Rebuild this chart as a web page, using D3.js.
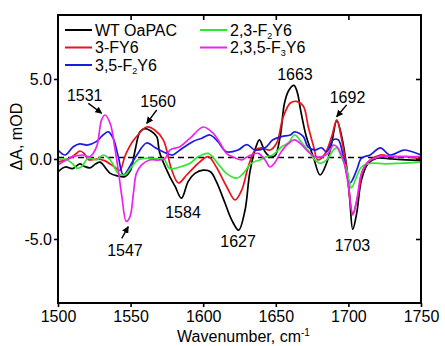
<!DOCTYPE html>
<html>
<head>
<meta charset="utf-8">
<script src="https://cdn.jsdelivr.net/npm/d3@7"></script>
<style>
  body { margin: 0; background: #fff; }
  svg text { font-family: "Liberation Sans", Arial, sans-serif; fill: #000; }
</style>
</head>
<body>
<div id="chart"></div>
<script>
// wavenumber (cm-1), dA (mOD)
const wt = [
  [1500, -0.8], [1505, -0.5], [1510, -0.6], [1515, -0.3], [1518, -0.45], [1522, -0.55],
  [1526, -0.3], [1529, -0.2], [1536, -0.9], [1541, -1.05], [1546, -1.1], [1550, -0.7],
  [1553, 0.5], [1556.5, 1.7], [1560, 1.9], [1564, 1.75], [1568, 1.4], [1570, 0.4],
  [1577, -1.1], [1580.6, -1.7], [1585, -2.45], [1589.7, -1.4], [1594.3, -0.9], [1600, -0.7],
  [1605, -0.8], [1609, -1.4], [1615, -2.75], [1619.6, -3.8], [1624.4, -4.45],
  [1628.8, -3.2], [1632, -0.9], [1635.7, 0.56], [1638.7, 1.2], [1642.6, 0.45], [1646, 0.15],
  [1649.4, 0.2], [1653, 1.4], [1656, 3.5], [1659, 4.3], [1662.5, 4.6], [1665, 4.1],
  [1667, 3.1], [1671, 1.4], [1675.8, 0.15], [1680.5, -1.0], [1685, -0.25], [1688.5, 1.0],
  [1692, 2.4], [1695.4, 1.4], [1698.8, -0.5], [1701, -2.6], [1703, -4.4], [1705.7, -3.4],
  [1709, -1.3], [1713.5, -0.3], [1719.5, 0.05], [1730, 0.0], [1740, -0.05], [1750, -0.1]
];
const fy3 = [
  [1500, -0.2], [1505, -0.05], [1508, 0.05], [1512, 0.3], [1515, 0.5], [1518, 0.35],
  [1521, -0.05], [1526.6, 0.0], [1532, -0.1], [1539, -0.5], [1542.7, -0.7], [1546, 0.15],
  [1550.7, 1.0], [1555, 1.5], [1561, 2.0], [1566.8, 1.8], [1572.5, 1.2], [1575, 0.5],
  [1578, -0.6], [1583, -1.5], [1588.6, -1.0], [1597.8, -0.17], [1603.5, 0.15], [1609, -0.5],
  [1616, -1.7], [1622, -2.56], [1626.5, -1.95], [1631, -0.5], [1635.7, 0.56],
  [1640, 0.7], [1646, 0.56], [1650.6, 1.0], [1655, 2.6], [1660, 3.5], [1664.3, 3.6],
  [1669, 3.3], [1672.4, 2.0], [1676, 0.8], [1679, -0.06], [1684, 0.35], [1688.5, 1.4],
  [1692, 2.45], [1695.4, 1.2], [1699, -0.7], [1703, -3.4], [1707, -2.1], [1710, -0.7],
  [1715, -0.06], [1722, 0.25], [1730, 0.15], [1740, 0.15], [1750, 0.0]
];
const f2y35 = [
  [1500, 0.56], [1505, 0.25], [1510.5, 0.77], [1515, 0.95], [1520, 0.87], [1526.6, 1.1],
  [1531, 1.5], [1534.7, 1.7], [1538, 1.3], [1541.5, 0.15], [1545, -1.0], [1550.7, -0.27],
  [1555, 0.35], [1561, 1.0], [1567, 0.7], [1570, 0.56], [1575, 0.35], [1579, 0.25],
  [1584, 0.56], [1593, 1.1], [1599, 1.3], [1604.7, 1.5], [1610, 1.1], [1616, 0.45],
  [1624, 0.56], [1630, 0.9], [1635.7, 0.56], [1642.6, 0.7], [1648, 1.2],
  [1654, 1.4], [1660, 1.5], [1663, 1.7], [1669, 1.4], [1672, 0.77], [1677, 0.56],
  [1681.6, 0.7], [1685, 0.45], [1689.6, 1.2], [1693, 1.2], [1696.5, 0.15], [1701, -1.5],
  [1705.7, -0.7], [1709, 0.06], [1715, 0.25], [1722, 0.7], [1728.6, 0.25], [1738, 0.56],
  [1744, 0.45], [1750, 0.25]
];
const f2y23 = [
  [1500, -0.06], [1505, 0.0], [1510, -0.3], [1513, -0.57], [1516, -0.5], [1521, 0.06],
  [1526.6, -0.06], [1531, 0.25], [1536, -0.06], [1541.5, -0.9], [1546, -1.0], [1550.7, -0.5],
  [1555, -0.06], [1563, 0.06], [1570, 0.0], [1573, 0.0], [1577, -0.6], [1584, -0.5],
  [1591, -0.27], [1596.7, 0.15], [1603.5, 0.35], [1610, -0.27], [1616, -0.9], [1623, -1.2],
  [1627.6, -0.9], [1633, -0.27], [1639, -0.06], [1643.7, 0.15], [1648, 0.25], [1654, 0.77],
  [1658.6, 1.0], [1663, 1.5], [1668, 1.0], [1672, 0.56], [1677, -0.06], [1680.5, -0.27],
  [1685, -0.06], [1689.6, 0.56], [1692, 0.7], [1695, 0.15], [1699, -0.7], [1702, -1.8],
  [1705.7, -1.1], [1709, -0.5], [1715, -0.27], [1725, -0.3], [1735, -0.27], [1750, -0.2]
];
const f3y235 = [
  [1500, -0.37], [1505, -0.1], [1510.5, 0.15], [1517, 0.25], [1522, 0.15], [1526.6, 0.77],
  [1530, 2.45], [1532.4, 2.75], [1536, 2.2], [1539, 0.77], [1541.5, -0.7], [1544, -2.35],
  [1547, -3.9], [1549.6, -3.6], [1552, -2.1], [1554, -0.9], [1557.6, -0.37], [1563, -0.06],
  [1570, -0.06], [1574, 0.06], [1577, 0.56], [1584, 0.77], [1591, 1.3], [1600, 2.0],
  [1607, 1.6], [1611.6, 1.0], [1616, 0.35], [1620, 0.15], [1626.5, -0.06],
  [1629, 0.06], [1633, 0.25], [1638, 0.35], [1642.6, -0.06], [1646, -0.5], [1649, -0.27],
  [1653, 0.35], [1657.5, 0.87], [1663, 1.2], [1668, 0.87], [1672.4, 0.45], [1677, 0.15],
  [1682, 0.15], [1686, 0.35], [1689.6, 0.87], [1692, 0.77], [1696.5, -0.06], [1700, -1.7],
  [1703, -3.5], [1705.7, -2.6], [1709, -0.9], [1713.6, -0.17], [1722, 0.15], [1735, 0.15],
  [1750, 0.15]
];

const xTicks = [1500, 1550, 1600, 1650, 1700, 1750];
const yTicks = [-5, 0, 5];

// label name parts: [text, subscript, text]
const series = [
  { name: ['WT OaPAC', '', ''], color: '#000000', values: wt },
  { name: ['3-FY6', '', ''], color: '#e8141e', values: fy3 },
  { name: ['3,5-F', '2', 'Y6'], color: '#1a1ae0', values: f2y35 },
  { name: ['2,3-F', '2', 'Y6'], color: '#2ee82e', values: f2y23 },
  { name: ['2,3,5-F', '3', 'Y6'], color: '#ee22ee', values: f3y235 }
];

// peak labels in data units, optional arrow [x1, y1, x2, y2]
const peaks = [
  { label: '1531', x: 1518.4, y: 3.64, arrow: [1520.9, 3.48, 1530.1, 2.86] },
  { label: '1560', x: 1568.9, y: 3.27, arrow: [1568, 3.06, 1561.1, 2.23] },
  { label: '1584', x: 1586.1, y: -3.69 },
  { label: '1627', x: 1624, y: -5.47 },
  { label: '1547', x: 1546.1, y: -6.09, arrow: [1543.9, -4.96, 1548.4, -4.23] },
  { label: '1663', x: 1663.2, y: 4.94 },
  { label: '1692', x: 1699.4, y: 3.48, arrow: [1698.8, 3.38, 1691.9, 2.64] },
  { label: '1703', x: 1702.8, y: -5.78 }
];

const config = {
  svgWidth: 445, svgHeight: 346,
  marginLeft: 58, marginRight: 24, marginTop: 15, marginBottom: 43
};
const chartWidth = config.svgWidth - config.marginLeft - config.marginRight;
const chartHeight = config.svgHeight - config.marginTop - config.marginBottom;

const svg = d3.select('#chart')
  .append('svg')
  .attr('width', config.svgWidth)
  .attr('height', config.svgHeight);

svg.append('defs').append('marker')
  .attr('id', 'arrow')
  .attr('viewBox', '0 0 10 10')
  .attr('refX', 9).attr('refY', 5)
  .attr('markerWidth', 7).attr('markerHeight', 7)
  .attr('markerUnits', 'userSpaceOnUse')
  .attr('orient', 'auto')
  .append('path')
  .attr('d', 'M0,0 L10,5 L0,10 Z')
  .attr('fill', '#000');

const chart = svg.append('g')
  .attr('transform', `translate(${config.marginLeft}, ${config.marginTop})`);

const scaleX = d3.scaleLinear().domain([1500, 1750]).range([0, chartWidth]);
const scaleY = d3.scaleLinear().domain([-9, 9]).range([chartHeight, 0]);

// zero line
chart.append('line')
  .attr('x1', scaleX(1500)).attr('x2', scaleX(1750))
  .attr('y1', scaleY(0) - 1.5).attr('y2', scaleY(0) - 1.5)
  .attr('stroke', '#000')
  .attr('stroke-width', 1.6)
  .attr('stroke-dasharray', '6,4');

const line = d3.line()
  .x(d => scaleX(d[0]))
  .y(d => scaleY(d[1]))
  .curve(d3.curveCatmullRom.alpha(0.5));

chart.append('defs').append('clipPath').attr('id', 'clip')
  .append('rect').attr('width', chartWidth).attr('height', chartHeight);

chart.append('g')
  .attr('clip-path', 'url(#clip)')
  .selectAll('.spectrum')
  .data(series)
  .join('path')
  .attr('class', 'spectrum')
  .attr('d', d => line(d.values))
  .attr('fill', 'none')
  .attr('stroke', d => d.color)
  .attr('stroke-width', 1.7)
  .attr('stroke-linejoin', 'round');

// axes
const axisBottom = chart.append('g')
  .attr('transform', `translate(0, ${chartHeight})`)
  .call(d3.axisBottom(scaleX).tickValues(xTicks).tickSize(4).tickPadding(4).tickFormat(d3.format('d')));
const axisTop = chart.append('g')
  .call(d3.axisBottom(scaleX).tickValues(xTicks.slice(1, -1)).tickSize(5).tickFormat(''));
const axisLeft = chart.append('g')
  .call(d3.axisLeft(scaleY).tickValues(yTicks).tickSize(4).tickPadding(2).tickFormat(d3.format('.1f')));
const axisRight = chart.append('g')
  .attr('transform', `translate(${chartWidth}, 0)`)
  .call(d3.axisLeft(scaleY).tickValues(yTicks).tickSize(5).tickFormat(''));

[axisBottom, axisTop, axisLeft, axisRight].forEach(a => {
  a.select('.domain').remove();
  a.selectAll('line').attr('stroke', '#000').attr('stroke-width', 1.6);
  a.selectAll('text')
    .style('font-family', '"Liberation Sans", Arial, sans-serif')
    .style('font-size', '16px')
    .attr('fill', '#000');
});
axisLeft.selectAll('text').text(d => d3.format('.1f')(d).replace('−', '-'));

chart.append('rect')
  .attr('width', chartWidth)
  .attr('height', chartHeight)
  .attr('fill', 'none')
  .attr('stroke', '#000')
  .attr('stroke-width', 2);

// peak labels
const peakG = chart.append('g').attr('class', 'peaks');
peakG.selectAll('.peak-label')
  .data(peaks)
  .join('text')
  .attr('class', 'peak-label')
  .attr('x', d => scaleX(d.x))
  .attr('y', d => scaleY(d.y))
  .attr('text-anchor', 'middle')
  .style('font-size', '16px')
  .text(d => d.label);

peakG.selectAll('.peak-arrow')
  .data(peaks.filter(d => d.arrow))
  .join('line')
  .attr('class', 'peak-arrow')
  .attr('x1', d => scaleX(d.arrow[0]))
  .attr('y1', d => scaleY(d.arrow[1]))
  .attr('x2', d => scaleX(d.arrow[2]))
  .attr('y2', d => scaleY(d.arrow[3]))
  .attr('stroke', '#000')
  .attr('stroke-width', 1.4)
  .attr('marker-end', 'url(#arrow)');

// legend
const legend = chart.append('g').attr('class', 'legend');
const legendItem = legend.selectAll('.legend-item')
  .data(series)
  .join('g')
  .attr('class', 'legend-item')
  .attr('transform', (d, i) => i < 3
    ? `translate(7, ${15 + i * 17.5})`
    : `translate(142, ${15 + (i - 3) * 17.5})`);

legendItem.append('line')
  .attr('x1', 0).attr('x2', 27)
  .attr('stroke', d => d.color)
  .attr('stroke-width', 2);

const legendText = legendItem.append('text')
  .attr('x', 30)
  .attr('y', 5.5)
  .style('font-size', '16px');
legendText.append('tspan').text(d => d.name[0]);
legendText.filter(d => d.name[1]).append('tspan')
  .attr('dy', 3).style('font-size', '9px').text(d => d.name[1]);
legendText.filter(d => d.name[1]).append('tspan')
  .attr('dy', -3).text(d => d.name[2]);

// axis titles
svg.append('text')
  .attr('transform', `translate(22, ${config.marginTop + scaleY(1.4)}) rotate(-90)`)
  .attr('text-anchor', 'middle')
  .style('font-size', '16px')
  .text('ΔA, mOD');

const xTitle = svg.append('text')
  .attr('x', config.marginLeft + chartWidth / 2 + 4)
  .attr('y', 342)
  .attr('text-anchor', 'middle')
  .style('font-size', '16px');
xTitle.append('tspan').text('Wavenumber, cm');
xTitle.append('tspan').attr('dy', -6).style('font-size', '10px').text('-1');
</script>
</body>
</html>
